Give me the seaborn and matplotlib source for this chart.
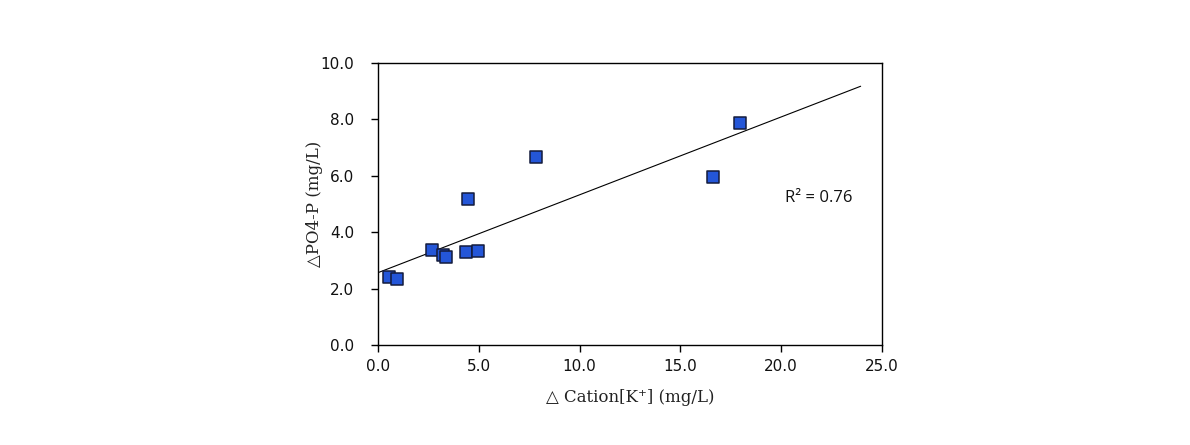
import numpy as np
import pandas as pd
import matplotlib
matplotlib.use("Agg")
import matplotlib.pyplot as plt
import seaborn as sns

# Data
cation_k = [0.55, 0.93, 2.66, 3.24, 3.36, 4.37, 4.95, 4.45, 7.84, 16.63, 17.94]
po4_p = [2.40, 2.34, 3.36, 3.20, 3.11, 3.30, 3.32, 5.16, 6.67, 5.97, 7.86]
x_ticks = [0.0, 5.0, 10.0, 15.0, 20.0, 25.0]
y_ticks = [0.0, 2.0, 4.0, 6.0, 8.0, 10.0]
trend_range = [0.0, 23.94]
r2_label = "R² = 0.76"

df = pd.DataFrame({"x": cation_k, "y": po4_p})

sns.set_theme(style="white")
plt.rcParams["font.family"] = ["DejaVu Sans"]

fig = plt.figure(figsize=(11.9, 4.45), dpi=100)
ax = fig.add_axes([0.3176, 0.2247, 0.4236, 0.6337])

# trendline (least squares fit of the data)
slope, intercept = np.polyfit(cation_k, po4_p, 1)
tx = np.array(trend_range)
trend = pd.DataFrame({"x": tx, "y": slope * tx + intercept})
sns.lineplot(data=trend, x="x", y="y", ax=ax, color="black", linewidth=0.8, zorder=2)

sns.scatterplot(data=df, x="x", y="y", ax=ax, marker="s", s=80,
                color="#2456d8", edgecolor="#141b3c", linewidth=1.1, zorder=3)

ax.set_xlim(0, 25)
ax.set_ylim(0, 10)
ax.set_xticks(x_ticks)
ax.set_yticks(y_ticks)
ax.set_xticklabels([f"{v:.1f}" for v in x_ticks], fontsize=11, color="#111111")
ax.set_yticklabels([f"{v:.1f}" for v in y_ticks], fontsize=11, color="#111111")
ax.tick_params(axis="x", direction="out", length=5, width=1, color="black",
               bottom=True, pad=5)
ax.tick_params(axis="y", direction="out", length=5, width=1, color="black",
               left=True, pad=12)
for sp in ax.spines.values():
    sp.set_visible(True)
    sp.set_color("black")
    sp.set_linewidth(1.0)

serif = ["DejaVu Serif"]
ax.set_xlabel("△ Cation[K⁺] (mg/L)", fontsize=12, family=serif, labelpad=11,
              color="#222222")
ax.set_ylabel("△PO4-P (mg/L)", fontsize=12, family=serif, labelpad=-2,
              color="#222222")

ax.text(20.2, 5.2, r2_label, fontsize=12, family=["Open Sans", "DejaVu Sans"],
        va="center", ha="left", color="#111111")

fig.savefig("out.png", dpi=100)
